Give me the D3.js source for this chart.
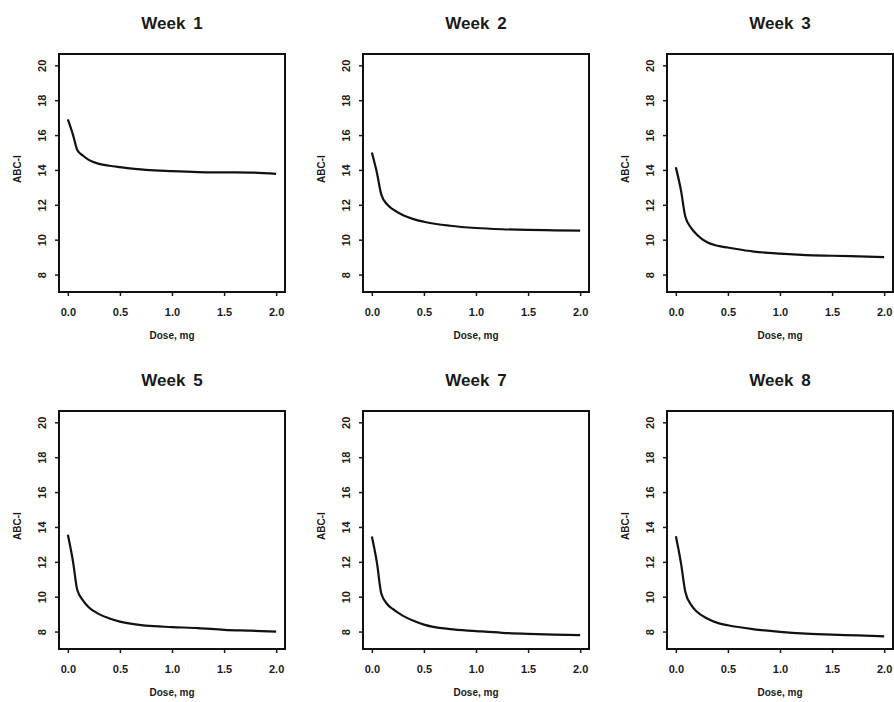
<!DOCTYPE html>
<html>
<head>
<meta charset="utf-8">
<script src="https://cdn.jsdelivr.net/npm/d3@7"></script>
<style>
  body { margin: 0; background: #fff; }
  svg { display: block; }
  .tick text { font-family: "Liberation Sans", Arial, sans-serif; font-size: 11px; font-weight: bold; fill: #1a1a1a; }
  .tick line { stroke: #1a1a1a; stroke-width: 1.5px; }
</style>
</head>
<body>
<svg id="chart" width="894" height="702"></svg>
<script>
// DATA
const panelTitles = ["Week 1", "Week 2", "Week 3", "Week 5", "Week 7", "Week 8"];
const doses = [0, 0.05, 0.09, 0.15, 0.2, 0.3, 0.4, 0.5, 0.75, 1.0, 1.25, 1.5, 1.75, 2.0];
const week1 = [16.9, 16.0, 15.15, 14.8, 14.58, 14.35, 14.24, 14.16, 14.0, 13.93, 13.88, 13.86, 13.85, 13.78];
const week2 = [15.0, 13.8, 12.6, 12.0, 11.75, 11.4, 11.18, 11.03, 10.8, 10.67, 10.6, 10.56, 10.54, 10.52];
const week3 = [14.15, 12.8, 11.35, 10.65, 10.3, 9.85, 9.65, 9.55, 9.32, 9.2, 9.12, 9.08, 9.04, 9.0];
const week5 = [13.55, 12.0, 10.4, 9.75, 9.4, 9.0, 8.75, 8.57, 8.34, 8.26, 8.2, 8.1, 8.05, 8.0];
const week7 = [13.45, 11.9, 10.2, 9.55, 9.3, 8.9, 8.62, 8.4, 8.14, 8.03, 7.93, 7.87, 7.83, 7.8];
const week8 = [13.47, 11.9, 10.3, 9.5, 9.15, 8.75, 8.5, 8.36, 8.13, 7.98, 7.88, 7.82, 7.78, 7.72];
const series = [week1, week2, week3, week5, week7, week8];
const xTicks = [0, 0.5, 1.0, 1.5, 2.0];
const yTicks = [8, 10, 12, 14, 16, 18, 20];
const xLabel = "Dose, mg";
const yLabel = "ABC-I";

const svg = d3.select("#chart");
const fontFamily = '"Liberation Sans", Arial, sans-serif';

// panel geometry
const boxW = 226, boxH = 238;
const colStep = 304, rowStep = 357;
const left0 = 59, top0 = 54;

const xScale = d3.scaleLinear()
    .domain([-0.085, 2.085])
    .range([0, boxW]);

const yScale = d3.scaleLinear()
    .domain([7, 20.65])
    .range([boxH, 0]);

const line = d3.line()
    .x(d => xScale(d.dose))
    .y(d => yScale(d.value))
    .curve(d3.curveMonotoneX);

panelTitles.forEach((title, i) => {
    let col = i % 3;
    let row = Math.floor(i / 3);
    let g = svg.append("g")
        .attr("transform", `translate(${left0 + col * colStep}, ${top0 + row * rowStep})`);

    // x axis
    g.append("g")
        .attr("transform", `translate(0, ${boxH})`)
        .call(d3.axisBottom(xScale)
            .tickValues(xTicks)
            .tickSize(4)
            .tickPadding(12)
            .tickFormat(d3.format(".1f")))
        .call(a => a.select(".domain").remove());

    // y axis, labels parallel to axis
    g.append("g")
        .call(d3.axisLeft(yScale)
            .tickValues(yTicks)
            .tickSize(4))
        .call(a => a.select(".domain").remove())
        .selectAll(".tick text")
            .attr("x", null)
            .attr("dy", null)
            .attr("text-anchor", "middle")
            .attr("dominant-baseline", "central")
            .attr("transform", "translate(-17,0) rotate(-90)");

    // curve
    let pts = doses.map((d, k) => ({ dose: d, value: series[i][k] }));
    g.append("path")
        .datum(pts)
        .attr("fill", "none")
        .attr("stroke", "#111")
        .attr("stroke-width", 2.2)
        .attr("stroke-linejoin", "round")
        .attr("d", line);

    // frame
    g.append("rect")
        .attr("x", 0)
        .attr("y", 0)
        .attr("width", boxW)
        .attr("height", boxH)
        .style("fill", "none")
        .style("stroke", "#111")
        .style("stroke-width", "2px");

    // title
    g.append("text")
        .attr("x", boxW / 2)
        .attr("y", -31)
        .attr("text-anchor", "middle")
        .attr("dominant-baseline", "central")
        .style("font-family", fontFamily)
        .style("font-size", "17px")
        .style("font-weight", "bold")
        .style("word-spacing", "3px")
        .style("fill", "#1a1a1a")
        .text(title);

    // axis titles
    g.append("text")
        .attr("x", boxW / 2)
        .attr("y", boxH + 43)
        .attr("text-anchor", "middle")
        .attr("dominant-baseline", "central")
        .style("font-family", fontFamily)
        .style("font-size", "10px")
        .style("font-weight", "bold")
        .style("fill", "#1a1a1a")
        .text(xLabel);

    g.append("text")
        .attr("transform", `translate(-42, ${boxH / 2 - 4}) rotate(-90)`)
        .attr("text-anchor", "middle")
        .attr("dominant-baseline", "central")
        .style("font-family", fontFamily)
        .style("font-size", "10px")
        .style("font-weight", "bold")
        .style("fill", "#1a1a1a")
        .text(yLabel);
});
</script>
</body>
</html>
